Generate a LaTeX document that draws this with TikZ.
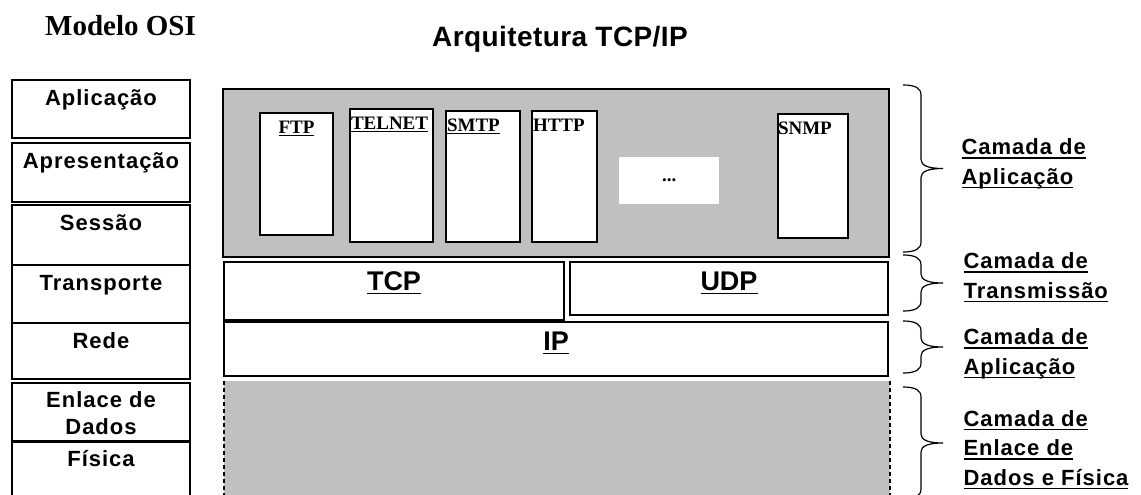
\documentclass[tikz,border=0pt]{standalone}
\usepackage{fontspec}
\usepackage{xcolor}
\newfontfamily\spacedsans[LetterSpace=4.5]{Liberation Sans}
\newfontfamily\titlesans[LetterSpace=1.5]{Liberation Sans}
\newfontfamily\plainsans{Liberation Sans}
\newfontfamily\plainserif{Liberation Serif}
\definecolor{mgray}{RGB}{192,192,192}
\newsavebox{\ulbox}
\newcommand{\uln}[1]{\sbox{\ulbox}{#1}\rlap{\rule[-4.3pt]{\wd\ulbox}{1.8pt}}\usebox{\ulbox}}
\newcommand{\ulsmall}[1]{\sbox{\ulbox}{#1}\rlap{\rule[-3pt]{\wd\ulbox}{1.2pt}}\usebox{\ulbox}}

\tikzset{
  osibox/.style={rectangle, draw, line width=1.5pt, outer sep=0pt, inner xsep=0pt, inner ysep=0pt,
    anchor=north west, minimum width=178pt, text height=25pt, text depth=#1, align=center,
    font=\spacedsans\bfseries\fontsize{22}{27}\selectfont},
  tcpbox/.style={rectangle, draw, line width=1.5pt, outer sep=0pt, inner sep=0pt, fill=white,
    anchor=north west, text height=28pt, text depth=#1,
    font=\plainsans\bfseries\fontsize{27}{30}\selectfont},
  appbox/.style 2 args={rectangle, draw, line width=1.5pt, outer sep=0pt, inner xsep=1pt, inner ysep=0pt,
    fill=white, anchor=north west, text width=#1, text height=20pt, text depth=#2, align=left,
    font=\plainserif\bfseries\fontsize{19}{22}\selectfont},
  camada/.style={anchor=base west, align=left, font=\spacedsans\bfseries\fontsize{22}{29.5}\selectfont},
  brace/.style={line width=1.2pt}
}

\begin{document}
\begin{tikzpicture}[x=1pt, y=-1pt]
  \useasboundingbox (0,0) rectangle (1141,495);
  \clip (0,0) rectangle (1141,495);

  % titulos
  \node[anchor=base west, inner sep=0pt, font=\plainserif\bfseries\fontsize{29}{32}\selectfont] (titosi) at (45,36) {Modelo OSI};
  \node[anchor=base west, inner sep=0pt, font=\titlesans\bfseries\fontsize{28}{32}\selectfont] (tittcp) at (432,47) {Arquitetura TCP/IP};

  % modelo OSI
  \node[osibox=33pt] (apl) at (12,80)  {Aplicação};
  \node[osibox=34pt] (apr) at (12,143) {Apresentação};
  \node[osibox=35pt] (ses) at (12,205) {Sessão};
  \node[osibox=33pt] (tra) at (12,265) {Transporte};
  \node[osibox=31pt] (red) at (12,323) {Rede};
  \node[osibox=7pt, text height=51pt] (enl) at (12,383) {Enlace de\\Dados};
  \node[osibox=43pt] (fis) at (12,441) {Física};
  \draw[line width=3pt] (fis.north west) -- (fis.north east);

  % arquitetura TCP/IP
  \node[rectangle, draw, line width=2pt, fill=mgray, outer sep=0pt, anchor=north west,
        minimum width=666pt, minimum height=168pt] (aplic) at (223,89) {};
  \node[appbox={71pt}{102pt}, align=center] (ftp) at (260,113) {\ulsmall{FTP}};
  \node[appbox={81pt}{113pt}] (telnet) at (350,109) {\ulsmall{TELNET}};
  \node[appbox={72pt}{111pt}] (smtp) at (446,111) {\ulsmall{SMTP}};
  \node[appbox={63pt}{111pt}] (http) at (532,111) {HTTP};
  \node[fill=white, anchor=north west, minimum width=100pt, minimum height=47pt, inner sep=0pt,
        font=\plainserif\bfseries\fontsize{19}{22}\selectfont] (dots) at (619,157) {...};
  \node[appbox={70pt}{104pt}, inner xsep=0pt] (snmp) at (778,114) {SNMP};

  \node[tcpbox=30pt, minimum width=340pt] (tcp) at (224,262) {\uln{TCP}};
  \node[tcpbox=25pt, minimum width=318pt] (udp) at (570,262) {\uln{UDP}};
  \node[tcpbox=26pt, minimum width=664pt] (ip)  at (224,322) {\uln{IP}};
  \draw[line width=3pt] (tcp.south west) -- (tcp.south east);

  \node[fill=mgray, anchor=north west, outer sep=0pt, minimum width=666pt, minimum height=130pt] (enlfis) at (224,381) {};
  \draw[dashed, dash pattern=on 4pt off 3pt, line width=1.2pt] (enlfis.north west) -- (enlfis.south west);
  \draw[dashed, dash pattern=on 4pt off 3pt, line width=1.2pt] (enlfis.north east) -- (enlfis.south east);

  % chaves
  \foreach \t/\b in {85/252, 255/311, 321/373, 387/499}{
    \pgfmathsetmacro{\m}{(\t+\b)/2}
    \draw[brace] (903,\t) .. controls (915,\t) and (921,\t+3) .. (921,\t+10) -- (921,\m-9)
      .. controls (921,\m-3) and (928,\m) .. (943,\m)
      .. controls (928,\m) and (921,\m+3) .. (921,\m+9) -- (921,\b-10)
      .. controls (921,\b-3) and (915,\b) .. (903,\b);
  }

  % rotulos das camadas (base = ultima linha)
  \node[camada] (lblapl) at (958,184) {\uln{Camada de}\\\uln{Aplicação}};
  \node[camada] (lbltra) at (960,298) {\uln{Camada de}\\\uln{Transmissão}};
  \node[camada] (lblrede) at (960,374) {\uln{Camada de}\\\uln{Aplicação}};
  \node[camada] (lblenl) at (960,485) {\uln{Camada de}\\\uln{Enlace de}\\\uln{Dados e Física}};
\end{tikzpicture}
\end{document}
